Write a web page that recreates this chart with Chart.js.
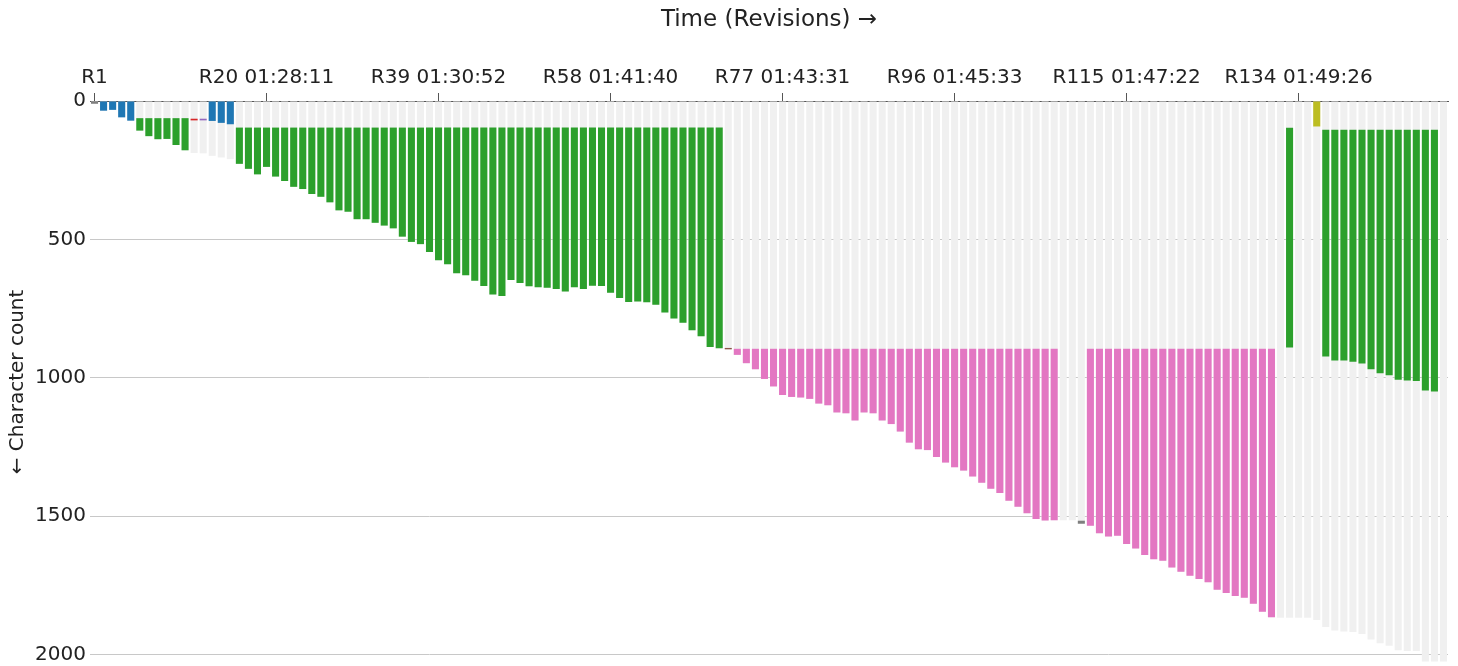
<!DOCTYPE html>
<html>
<head>
<meta charset="utf-8">
<script src="https://cdn.jsdelivr.net/npm/chart.js@4.4.1/dist/chart.umd.min.js"></script>
<style>
  body { margin: 0; background: #fff; }
  #wrap { width: 1458px; height: 666px; }
</style>
</head>
<body>
<div id="wrap"><canvas id="revChart"></canvas></div>
<script>
// document length after each revision
const totals = [
  10, 35, 32, 59, 71, 107, 127, 138, 137, 159,
  178, 188, 189, 198, 204, 210, 227, 245, 265, 238,
  273, 289, 310, 318, 336, 346, 366, 395, 400, 427,
  427, 440, 450, 460, 490, 509, 517, 545, 575, 590,
  622, 629, 649, 668, 699, 704, 647, 657, 669, 673,
  675, 679, 688, 673, 679, 667, 668, 693, 712, 726,
  724, 727, 736, 764, 786, 801, 828, 850, 889, 893,
  895, 917, 947, 969, 1004, 1031, 1062, 1069, 1071, 1076,
  1093, 1099, 1125, 1128, 1154, 1125, 1128, 1154, 1167, 1194,
  1234, 1258, 1261, 1286, 1306, 1323, 1335, 1356, 1379, 1401,
  1416, 1444, 1466, 1489, 1510, 1515, 1514, 1514, 1514, 1516,
  1534, 1561, 1573, 1570, 1600, 1616, 1640, 1655, 1661, 1685,
  1700, 1715, 1727, 1738, 1765, 1777, 1788, 1794, 1816, 1845,
  1865, 1867, 1867, 1867, 1867, 1875, 1900, 1913, 1916, 1918,
  1925, 1945, 1959, 1968, 1984, 1987, 1987, 2025, 2025, 2025
];

// where the edited span of each revision starts / ends
const editStart = [
  0, 0, 0, 0, 0, 62, 62, 62, 62, 62,
  62, 64, 64, 0, 0, 0, 96, 96, 96, 96,
  96, 96, 96, 96, 96, 96, 96, 96, 96, 96,
  96, 96, 96, 96, 96, 96, 96, 96, 96, 96,
  96, 96, 96, 96, 96, 96, 96, 96, 96, 96,
  96, 96, 96, 96, 96, 96, 96, 96, 96, 96,
  96, 96, 96, 96, 96, 96, 96, 96, 96, 96,
  892, 895, 895, 895, 895, 895, 895, 895, 895, 895,
  895, 895, 895, 895, 895, 895, 895, 895, 895, 895,
  895, 895, 895, 895, 895, 895, 895, 895, 895, 895,
  895, 895, 895, 895, 895, 895, 895, null, null, 1516,
  895, 895, 895, 895, 895, 895, 895, 895, 895, 895,
  895, 895, 895, 895, 895, 895, 895, 895, 895, 895,
  895, null, 97, null, null, 0, 104, 104, 104, 104,
  104, 104, 104, 104, 104, 104, 104, 104, 104, null
];

const editEnd = [
  10, 35, 32, 59, 71, 107, 127, 138, 137, 159,
  178, 70, 70, 72, 79, 84, 227, 245, 265, 238,
  273, 289, 310, 318, 336, 346, 366, 395, 400, 427,
  427, 440, 450, 460, 490, 509, 517, 545, 575, 590,
  622, 629, 649, 668, 699, 704, 647, 657, 669, 673,
  675, 679, 688, 673, 679, 667, 668, 693, 712, 726,
  724, 727, 736, 764, 786, 801, 828, 850, 889, 893,
  897, 917, 947, 969, 1004, 1031, 1062, 1069, 1071, 1076,
  1093, 1099, 1125, 1128, 1154, 1125, 1128, 1154, 1167, 1194,
  1234, 1258, 1261, 1286, 1306, 1323, 1335, 1356, 1379, 1401,
  1416, 1444, 1466, 1489, 1510, 1515, 1514, null, null, 1527,
  1534, 1561, 1573, 1570, 1600, 1616, 1640, 1655, 1661, 1685,
  1700, 1715, 1727, 1738, 1765, 1777, 1788, 1794, 1816, 1845,
  1865, null, 890, null, null, 92, 923, 937, 937, 942,
  948, 969, 983, 991, 1007, 1010, 1011, 1046, 1049, null
];

// k grey, b blue, g green, r red, p purple, n brown, m pink, y olive
const editKind = (
  'kbbbbggggg' + 'grpbbbgggg' + 'gggggggggg' + 'gggggggggg' + 'gggggggggg' +
  'gggggggggg' + 'gggggggggg' + 'nmmmmmmmmm' + 'mmmmmmmmmm' + 'mmmmmmmmmm' +
  'mmmmmmm..k' + 'mmmmmmmmmm' + 'mmmmmmmmmm' + 'm.g..ygggg' + 'ggggggggg.'
).split('');

const tickLabels = ['R1', 'R20 01:28:11', 'R39 01:30:52', 'R58 01:41:40',
  'R77 01:43:31', 'R96 01:45:33', 'R115 01:47:22', 'R134 01:49:26'];
const yTicks = [0, 500, 1000, 1500, 2000];

const kindColors = {
  k: '#7f7f7f', b: '#1f77b4', g: '#2ca02c', r: '#d62728',
  p: '#9467bd', n: '#8c564b', m: '#e377c2', y: '#bcbd22', '.': 'rgba(0,0,0,0)'
};

const revisions = totals.map((_, i) => 'R' + (i + 1));
const editBars = editStart.map((s, i) => s === null ? null : [s, editEnd[i]]);
const bgBars = totals.map(t => [0, t]);

const fontFamily = '"DejaVu Sans", Verdana, sans-serif';

new Chart(document.getElementById('revChart'), {
  type: 'bar',
  data: {
    labels: revisions,
    datasets: [
      {
        label: 'Edit',
        data: editBars,
        backgroundColor: editKind.map(k => kindColors[k]),
        borderWidth: 0,
        grouped: false,
        barPercentage: 0.78,
        categoryPercentage: 1
      },
      {
        label: 'Length',
        data: bgBars,
        backgroundColor: '#f0f0f0',
        borderWidth: 0,
        grouped: false,
        barPercentage: 0.78,
        categoryPercentage: 1
      }
    ]
  },
  options: {
    responsive: true,
    maintainAspectRatio: false,
    animation: false,
    layout: { padding: { left: 0, right: 10, top: 0, bottom: 3 } },
    plugins: {
      legend: { display: false },
      tooltip: { enabled: false }
    },
    scales: {
      x: {
        position: 'top',
        afterFit: s => { s.height = 101; s.paddingLeft = 0; s.paddingRight = 0; },
        title: {
          display: true,
          text: 'Time (Revisions) →',
          color: '#222',
          font: { family: fontFamily, size: 23 },
          padding: { top: 6, bottom: 0 }
        },
        border: { display: true, color: '#555', width: 1 },
        grid: {
          offset: false,
          drawOnChartArea: false,
          drawTicks: true,
          tickLength: 8,
          color: ctx => (ctx.index % 19 === 0 ? '#555' : 'rgba(0,0,0,0)')
        },
        ticks: {
          autoSkip: false,
          maxRotation: 0,
          minRotation: 0,
          padding: 3,
          color: '#222',
          font: { family: fontFamily, size: 20 },
          callback: (v, i) => (i % 19 === 0 ? tickLabels[i / 19] : '')
        }
      },
      y: {
        reverse: true,
        min: 0,
        max: 2030,
        afterFit: s => { s.width = 90; s.paddingTop = 0; s.paddingBottom = 0; },
        afterBuildTicks: s => { s.ticks = yTicks.map(v => ({ value: v })); },
        title: {
          display: true,
          text: '← Character count',
          color: '#222',
          font: { family: fontFamily, size: 20 },
          padding: { top: 6, bottom: 0 }
        },
        border: { display: false },
        grid: { color: '#c8c8c8', lineWidth: 1, drawTicks: false },
        ticks: {
          padding: 4,
          color: '#222',
          font: { family: fontFamily, size: 20 },
          callback: v => String(v)
        }
      }
    }
  }
});
</script>
</body>
</html>
